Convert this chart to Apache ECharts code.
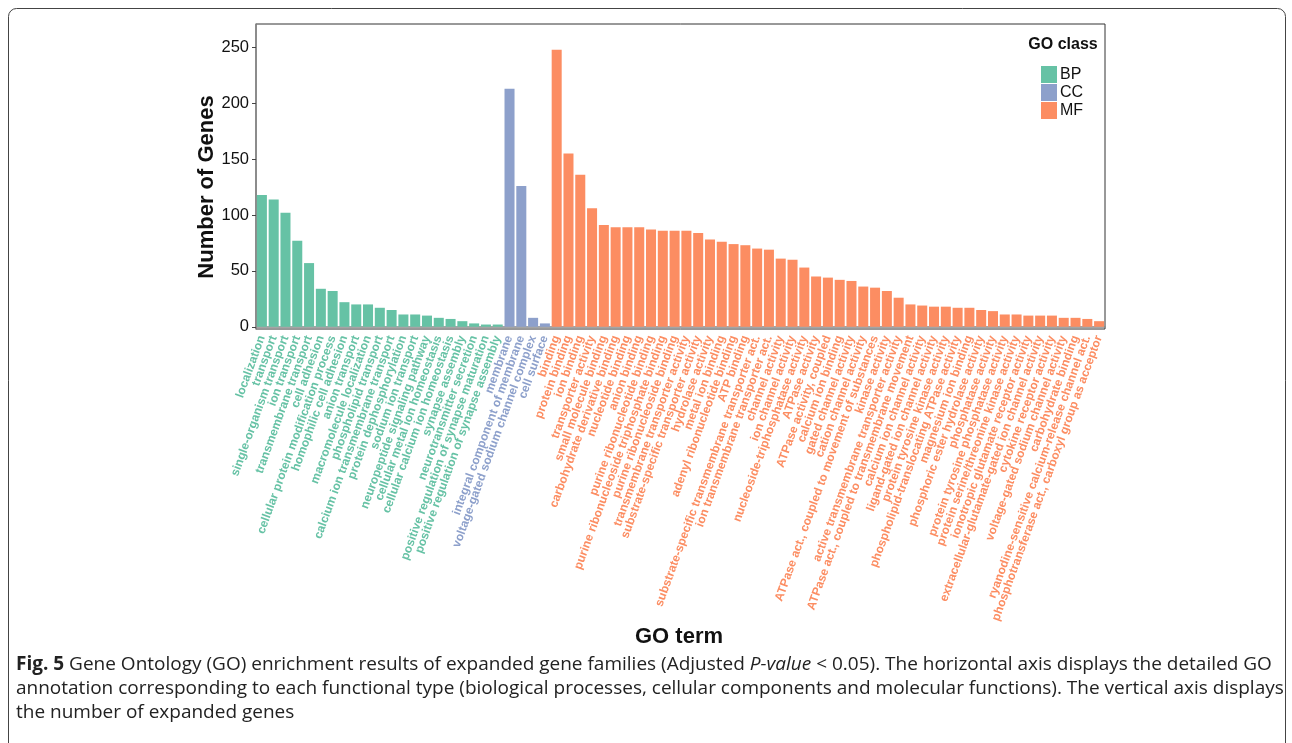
<!DOCTYPE html>
<html>
<head>
<meta charset="utf-8">
<script src="https://cdn.jsdelivr.net/npm/echarts@6/dist/echarts.min.js"></script>
<style>
html,body{margin:0;padding:0;background:#fff;}
#c{width:1292px;height:743px;}
</style>
</head>
<body>
<div id="c"></div>
<script>
const bpTerms = ["localization","transport","single-organism transport","ion transport","transmembrane transport","cell adhesion","cellular protein modification process","homophilic cell adhesion","anion transport","macromolecule localization","phospholipid transport","calcium ion transmembrane transport","protein dephosphorylation","sodium ion transport","neuropeptide signaling pathway","cellular metal ion homeostasis","cellular calcium ion homeostasis","synapse assembly","neurotransmitter secretion","positive regulation of synapse maturation","positive regulation of synapse assembly"];
const bpCounts = [118,114,102,77,57,34,32,22,20,20,17,15,11,11,10,8,7,5,3,2,2];

const ccTerms = ["membrane","integral component of membrane","voltage-gated sodium channel complex","cell surface"];
const ccCounts = [213,126,8,3];

const mfTerms = ["binding","protein binding","ion binding","transporter activity","small molecule binding","carbohydrate derivative binding","nucleotide binding","anion binding","purine ribonucleotide binding","purine ribonucleoside triphosphate binding","purine ribonucleoside binding","transmembrane transporter activity","substrate-specific transporter activity","hydrolase activity","metal ion binding","adenyl ribonucleotide binding","ATP binding","substrate-specific transmembrane transporter act.","ion transmembrane transporter act.","channel activity","ion channel activity","nucleoside-triphosphatase activity","ATPase activity","ATPase activity, coupled","calcium ion binding","gated channel activity","cation channel activity","ATPase act., coupled to movement of substances","kinase activity","active transmembrane transporter activity","ATPase act., coupled to transmembrane movement","calcium ion channel activity","ligand-gated ion channel activity","protein tyrosine kinase activity","phospholipid-translocating ATPase activity","magnesium ion binding","phosphoric ester hydrolase activity","phosphatase activity","protein tyrosine phosphatase activity","protein serine/threonine kinase activity","ionotropic glutamate receptor activity","extracellular-glutamate-gated ion channel activity","cytokine receptor activity","voltage-gated sodium channel activity","carbohydrate binding","ryanodine-sensitive calcium-release channel act.","phosphotransferase act., carboxyl group as acceptor"];
const mfCounts = [248,155,136,106,91,89,89,89,87,86,86,86,84,78,76,74,73,70,69,61,60,53,45,44,42,41,36,35,32,26,20,19,18,18,17,17,15,14,11,11,10,10,10,8,8,7,5];

const classNames = ["BP","CC","MF"];
const yTicks = [0,50,100,150,200,250];

const colors = {BP:"#66C2A5", CC:"#8DA0CB", MF:"#FC8D62"};
const categories = bpTerms.concat(ccTerms, mfTerms);
const nB = bpTerms.length, nC = ccTerms.length, nM = mfTerms.length;
const pad = n => new Array(n).fill(null);
const seriesData = {
  BP: bpCounts.concat(pad(nC + nM)),
  CC: pad(nB).concat(ccCounts, pad(nM)),
  MF: pad(nB + nC).concat(mfCounts)
};
const classOf = i => i < nB ? "BP" : (i < nB + nC ? "CC" : "MF");

const chart = echarts.init(document.getElementById('c'), null, {renderer:'canvas'});
const FONT = "'Liberation Sans', Arial, sans-serif";
const CAP = "'Open Sans', sans-serif";

const option = {
  animation: false,
  backgroundColor: '#fff',
  grid: {left:256, right:187, top:24, bottom:414, show:true, borderColor:'#333', borderWidth:1},
  legend: {
    data: classNames, orient:'vertical', left:1036, top:61, icon:'rect',
    itemWidth:16, itemHeight:17, itemGap:1,
    textStyle:{fontFamily:FONT, fontSize:16, color:'#111', padding:[0,0,0,-2]}
  },
  xAxis: {
    type:'category', data:categories,
    axisLine:{lineStyle:{color:'#888', width:1.5}},
    axisTick:{alignWithLabel:true, interval:0, length:4, lineStyle:{color:'#444'}},
    axisLabel:{
      interval:0, rotate:70, margin:7,
      fontFamily:FONT, fontSize:12, fontWeight:'bold',
      color: (v, i) => colors[classOf(i)]
    }
  },
  yAxis: {
    type:'value', min:-2, max:271,
    splitLine:{show:false},
    axisLine:{show:true, lineStyle:{color:'#888', width:1.5}},
    axisTick:{show:true, length:4, lineStyle:{color:'#444'}, customValues:yTicks},
    axisLabel:{fontFamily:FONT, fontSize:16.5, color:'#111', margin:7, customValues:yTicks}
  },
  series: classNames.map(k => ({
    name:k, type:'bar', data:seriesData[k],
    barGap:'-100%', barCategoryGap:'15%',
    itemStyle:{color:colors[k]}
  })),
  graphic: [
    {type:'rect', shape:{x:8.5, y:8.5, width:1277, height:780, r:8}, style:{fill:null, stroke:'#444', lineWidth:1}, silent:true},
    {type:'text', x:1063, y:45, style:{text:'GO class', font:"bold 16px "+FONT, fill:'#111', align:'center', verticalAlign:'middle'}},
    {type:'text', x:679, y:637, style:{text:'GO term', font:"bold 22px "+FONT, fill:'#111', align:'center', verticalAlign:'middle'}},
    {type:'text', x:207, y:187, rotation:Math.PI/2, style:{text:'Number of Genes', font:"bold 22px "+FONT, fill:'#111', align:'center', verticalAlign:'middle'}},
    {type:'text', x:16, y:665, style:{
      text:'{b|Fig. 5} Gene Ontology (GO) enrichment results of expanded gene families (Adjusted {i|P-value} < 0.05). The horizontal axis displays the detailed GO',
      font:"19px "+CAP, fill:'#222', verticalAlign:'middle',
      rich:{b:{fontWeight:'bold', fontSize:19, fontFamily:CAP, fill:'#222'}, i:{fontStyle:'italic', fontSize:19, fontFamily:CAP, fill:'#222'}}
    }},
    {type:'text', x:16, y:689, style:{
      text:'annotation corresponding to each functional type (biological processes, cellular components and molecular functions). The vertical axis displays',
      font:"19px "+CAP, fill:'#222', verticalAlign:'middle'
    }},
    {type:'text', x:16, y:713, style:{
      text:'the number of expanded genes',
      font:"19px "+CAP, fill:'#222', verticalAlign:'middle'
    }}
  ]
};
chart.setOption(option);
</script>
</body>
</html>
